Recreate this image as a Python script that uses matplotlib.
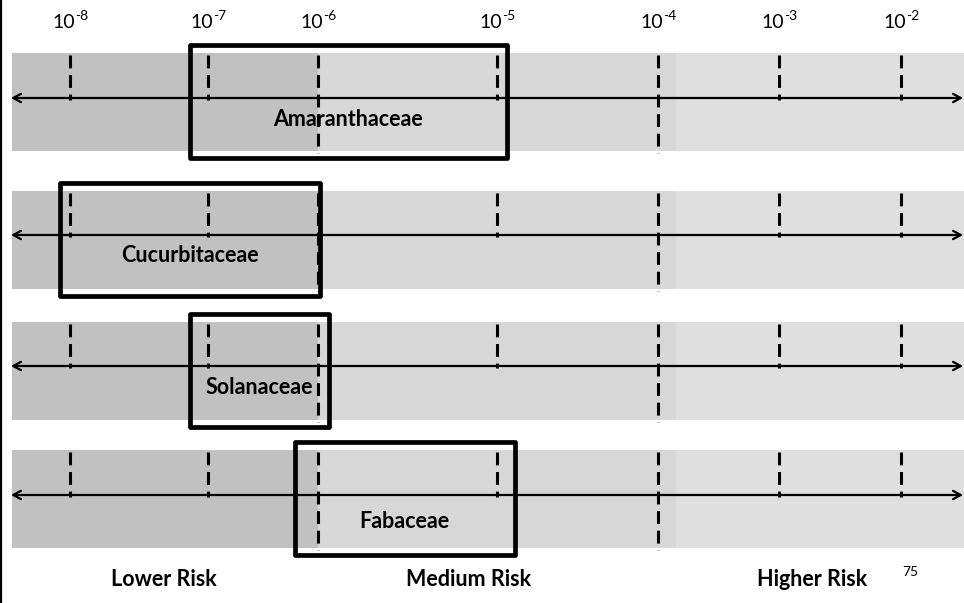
import numpy as np
import matplotlib
matplotlib.use("Agg")
import matplotlib.pyplot as plt
from matplotlib.patches import Rectangle

plt.rcParams['font.family'] = ['Lato', 'DejaVu Sans']

# Risk scale: decades shown along the top (log10 of risk)
decade_exps = [-8, -7, -6, -5, -4, -3, -2]
decade_base = "10"
decade_powers = ["-8", "-7", "-6", "-5", "-4", "-3", "-2"]

# Plant families and the log10 risk range each one spans
families = ["Amaranthaceae", "Cucurbitaceae", "Solanaceae", "Fabaceae"]
range_low = [-7.13, -8.07, -7.13, -6.21]
range_high = [-4.94, -5.99, -5.94, -4.89]

# Risk zones (log10 boundaries) and their captions
zone_edges = [-8.42, -6.0, -3.85, -1.48]
zone_colors = ['#c1c1c1', '#d7d7d7', '#dfdfdf']
zone_captions = ["Lower Risk", "Medium Risk", "Higher Risk"]

# Decades whose guide line runs through the whole row
full_guides = [-6, -4]

# ---- layout (pixel units of the 964x603 canvas) ----
W, H = 964, 603
decade_px = [70, 208, 318, 497, 658, 779, 901]
left_slope = decade_px[1] - decade_px[0]
right_slope = decade_px[-1] - decade_px[-2]


def to_px(e):
    e = np.asarray(e, dtype=float)
    out = np.interp(e, decade_exps, decade_px)
    out = np.where(e < decade_exps[0], decade_px[0] + (e - decade_exps[0]) * left_slope, out)
    out = np.where(e > decade_exps[-1], decade_px[-1] + (e - decade_exps[-1]) * right_slope, out)
    return out


def from_px(p):
    p = np.asarray(p, dtype=float)
    out = np.interp(p, decade_px, decade_exps)
    out = np.where(p < decade_px[0], decade_exps[0] + (p - decade_px[0]) / left_slope, out)
    out = np.where(p > decade_px[-1], decade_exps[-1] + (p - decade_px[-1]) / right_slope, out)
    return out


band_top = [53, 191, 322, 450]
band_h = 98
arrow_y = [98, 235, 366, 495]
label_y = [120, 256, 387, 522]

fig = plt.figure(figsize=(W / 100, H / 100), dpi=100)
ax = fig.add_axes([0, 0, 1, 1])
ax.set_xscale('function', functions=(to_px, from_px))
ax.set_xlim(float(from_px(0)), float(from_px(W)))
ax.set_ylim(H, 0)
ax.axis('off')

x_left = float(from_px(12))
x_arrow_l = float(from_px(11))
x_arrow_r = float(from_px(963))

for i, fam in enumerate(families):
    top = band_top[i]
    bot = top + band_h
    # shaded risk zones
    for z in range(len(zone_colors)):
        x0 = max(zone_edges[z], x_left)
        ax.add_patch(Rectangle((x0, top), zone_edges[z + 1] - x0, band_h,
                               facecolor=zone_colors[z], edgecolor='none', zorder=1))
    # decade guide lines
    for e in decade_exps:
        y_end = bot + 2 if e in full_guides else arrow_y[i] + 2
        ax.plot([e, e], [top + 2, y_end], color='black', lw=2.2,
                linestyle=(0, (4.2, 2.2)), zorder=2, solid_capstyle='butt')
    # double-headed scale arrow
    ax.annotate('', xy=(x_arrow_r, arrow_y[i]), xytext=(x_arrow_l, arrow_y[i]),
                arrowprops=dict(arrowstyle='<->,head_length=0.55,head_width=0.3',
                                color='black', lw=1.6, shrinkA=0, shrinkB=0),
                zorder=3)
    # family range box
    ax.add_patch(Rectangle((range_low[i], top - 8), range_high[i] - range_low[i], band_h + 15,
                           facecolor='none', edgecolor='black', lw=3.4,
                           joinstyle='round', zorder=4))
    # label centred on the box as drawn
    mid = (to_px(range_low[i]) + to_px(range_high[i])) / 2
    ax.text(float(from_px(mid)), label_y[i], fam,
            ha='center', va='center', fontsize=15.5, fontweight='bold', zorder=5)

# decade labels: base with a raised power
for e, pw in zip(decade_exps, decade_powers):
    ax.annotate(decade_base, xy=(e, 22), xytext=(3.5, 0), textcoords='offset points',
                ha='right', va='center', fontsize=14)
    ax.annotate(pw, xy=(e, 22), xytext=(3.8, 4.5), textcoords='offset points',
                ha='left', va='center', fontsize=10)

caption_x = [float(from_px(164)), float(from_px(469)), float(from_px(812))]
for cx, cap in zip(caption_x, zone_captions):
    ax.text(cx, 580, cap, ha='center', va='center', fontsize=15.5, fontweight='bold')

ax.text(float(from_px(910)), 572, "75", ha='center', va='center', fontsize=10)

# page border on the left
ax.plot([float(from_px(1.5)), float(from_px(1.5))], [0, H], color='black', lw=1.6)

fig.savefig("out.png", dpi=100)
